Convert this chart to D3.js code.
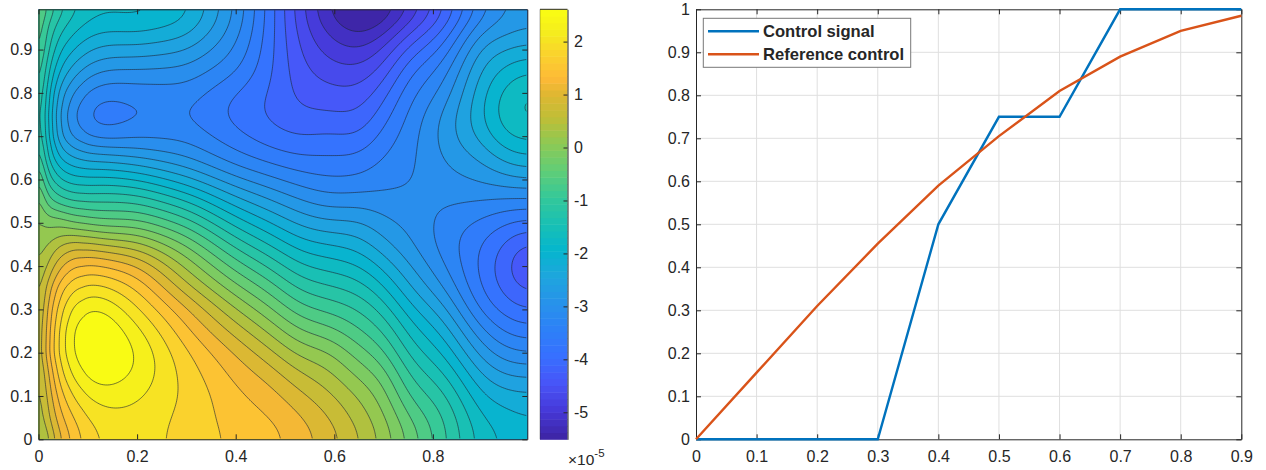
<!DOCTYPE html>
<meta charset="utf-8">
<style>
  body { margin: 0; background: #fff; }
  text { font-family: "Liberation Sans", Arial, sans-serif; fill: #262626; }
  .tick text { font-size: 16px; }
  .axis path, .axis line { stroke: #262626; stroke-width: 1px; }
</style>
<svg width="1266" height="470"></svg>
<script src="https://d3js.org/d3.v7.min.js"></script>
<script>
  // left panel: field, in units of 1e-5
  var gridY = [0,.05,.1,.15,.2,.25,.3,.35,.4,.45,.5,.55,.6,.65,.7,.75,.8,.85,.9,.95,.99];
  var gridX = [0,.02,.05,.08,.125,.2,.3,.4,.47,.53,.59,.65,.7,.75,.82,.9,.95,.99];
  // one column per gridX entry, bottom to top
  var fieldColumns = [
    [.15,.3,.35,.4,.45,.45,.4,.35,.25,.12,.02,-.1,-.4,-.75,-1,-1.05,-.95,-.8,-.65,-.55,-.45],
    [.45,.7,.85,1,1.25,1.2,1.1,.9,.55,.25,-.1,-.7,-1.2,-1.6,-1.8,-1.85,-1.75,-1.55,-1.3,-1.1,-.88],
    [1.1,1.35,1.6,1.9,2.12,2.1,1.9,1.6,1.1,.55,-.1,-1,-1.7,-2.3,-2.8,-2.89,-2.7,-2.3,-1.95,-1.6,-1.32],
    [1.5,1.7,2,2.35,2.58,2.6,2.38,1.95,1.45,.75,-.3,-1.15,-1.85,-2.45,-3.2,-3.4,-3.1,-2.65,-2.2,-1.85,-1.6],
    [1.85,1.98,2.25,2.62,2.76,2.72,2.47,1.95,1.37,.55,-.55,-1.03,-1.72,-2.45,-3.4,-3.72,-3.38,-2.95,-2.45,-2.07,-1.72],
    [1.95,2,2.13,2.33,2.38,2.2,1.87,1.55,1.12,.38,-.45,-1.08,-1.84,-2.65,-3.25,-3.5,-3.33,-2.95,-2.45,-1.98,-1.68],
    [1.72,1.73,1.78,1.72,1.62,1.36,1.12,.6,.2,-.27,-.9,-1.55,-2.3,-2.92,-3.25,-3.45,-3.28,-2.98,-2.62,-2.15,-1.97],
    [1.52,1.44,1.38,1.23,1.04,.68,.28,-.19,-.65,-1.15,-1.7,-2.25,-2.85,-3.35,-3.62,-3.8,-3.72,-3.36,-3.17,-3,-2.89],
    [1.42,1.33,1.17,.95,.6,.2,-.22,-.65,-1.1,-1.6,-2.1,-2.6,-3.1,-3.55,-3.85,-4.02,-3.96,-3.9,-3.85,-3.82,-3.8],
    [1.2,1.1,.85,.56,.15,-.27,-.72,-1.14,-1.56,-2,-2.45,-2.87,-3.3,-3.66,-3.98,-4.18,-4.29,-4.38,-4.48,-4.57,-4.65],
    [.93,.8,.58,.34,.06,-.42,-.87,-1.28,-1.68,-2.1,-2.6,-3.05,-3.42,-3.65,-3.87,-4.17,-4.38,-4.6,-4.85,-5.1,-5.35],
    [.58,.4,.26,-.1,-.42,-.77,-1.04,-1.42,-1.8,-2.22,-2.55,-3,-3.4,-3.63,-3.99,-4.22,-4.42,-4.66,-5.02,-5.42,-5.75],
    [.2,.1,-.1,-.32,-.7,-1.03,-1.4,-1.8,-2.18,-2.58,-2.83,-3.07,-3.23,-3.38,-3.55,-3.8,-4.05,-4.4,-4.68,-5.2,-5.6],
    [-.27,-.53,-.85,-1.1,-1.4,-1.67,-2,-2.33,-2.6,-2.85,-2.95,-3.1,-3.18,-3.24,-3.3,-3.37,-3.48,-3.7,-4.09,-4.55,-5.1],
    [-.96,-1,-1.2,-1.5,-1.84,-2.15,-2.5,-2.88,-3.12,-3.28,-3.25,-3.1,-3,-2.88,-2.78,-2.85,-3.12,-3.3,-3.65,-4,-4.33],
    [-1.72,-1.85,-2.1,-2.4,-2.77,-3.13,-3.55,-3.75,-3.78,-3.7,-3.5,-3.15,-2.85,-2.6,-2.25,-2.1,-2.15,-2.28,-2.47,-2.89,-3.3],
    [-1.85,-2,-2.25,-2.67,-3.1,-3.5,-3.84,-4.05,-4.18,-4,-3.7,-3.22,-2.72,-2.2,-1.78,-1.58,-1.68,-2,-2.35,-2.8,-2.89],
    [-2.05,-2.09,-2.27,-2.68,-3.15,-3.6,-3.95,-4.35,-4.65,-4.35,-3.75,-3.26,-2.6,-2.13,-1.72,-1.47,-1.5,-1.8,-2.25,-2.65,-2.78]
  ];
  var fieldMin = -5.51, fieldMax = 2.61, levelCount = 30;
  var leftXTicks = [0,.2,.4,.6,.8];
  var leftYTicks = [0,.1,.2,.3,.4,.5,.6,.7,.8,.9];
  var barTicks = [-5,-4,-3,-2,-1,0,1,2];

  // right panel
  var controlX = [0,.1,.2,.3,.4,.5,.6,.7,.8,.9];
  var controlSignal = [0,0,0,0,.5,.75,.75,1,1,1];
  var referenceControl = [0,.155,.31,.455,.59,.705,.81,.89,.95,.985];
  var rightXTicks = [0,.1,.2,.3,.4,.5,.6,.7,.8,.9];
  var rightYTicks = [0,.1,.2,.3,.4,.5,.6,.7,.8,.9,1];
  var legendNames = ["Control signal", "Reference control"];

  var parulaStops = [[0,"#3e26a8"],[.06,"#4638d8"],[.125,"#4855f8"],[.19,"#3770ff"],[.25,"#2d80f8"],[.31,"#2891eb"],
    [.375,"#1ea5de"],[.44,"#05b6cd"],[.5,"#19c0b4"],[.56,"#32c89b"],[.625,"#5fcd78"],[.69,"#8cca55"],[.75,"#bebe37"],
    [.81,"#e1b732"],[.845,"#feb937"],[.9,"#fad22d"],[.95,"#f5eb1e"],[1,"#f9fb14"]];
  var parula = d3.scaleLinear().domain(parulaStops.map(function (d) { return d[0]; }))
    .range(parulaStops.map(function (d) { return d[1]; }));

  var svg = d3.select("svg");
  var top_ = 9.3, bottom = 439.3;

  var x = d3.scaleLinear().domain([0, .9915]).range([38.5, 527.3]);
  var y = d3.scaleLinear().domain([0, .993]).range([bottom, top_]);

  // resample on a fine raster so the contours come out smooth
  function lookup(px, py) {
    var i = Math.min(d3.bisectRight(gridX, px), gridX.length - 1), j = Math.min(d3.bisectRight(gridY, py), gridY.length - 1);
    var tx = Math.min(1, (px - gridX[i - 1]) / (gridX[i] - gridX[i - 1])), ty = Math.min(1, (py - gridY[j - 1]) / (gridY[j] - gridY[j - 1]));
    var a = fieldColumns[i - 1][j - 1] * (1 - ty) + fieldColumns[i - 1][j] * ty,
      b = fieldColumns[i][j - 1] * (1 - ty) + fieldColumns[i][j] * ty;
    return a * (1 - tx) + b * tx;
  }
  var nx = 245, ny = 215, sharp = new Float64Array(nx * ny);
  var cellX = d3.scaleLinear().domain([0, nx]).range(x.range());
  var cellY = d3.scaleLinear().domain([0, ny]).range(y.range());
  for (var j = 0; j < ny; j++) for (var i = 0; i < nx; i++)
    sharp[j * nx + i] = lookup(x.invert(cellX(i + .5)), y.invert(cellY(j + .5)));
  var soft = Float64Array.from(sharp);
  d3.blur2({data: sharp, width: nx, height: ny}, 1.5);
  d3.blur2({data: soft, width: nx, height: ny}, 6);
  // wide blur everywhere except the steep strip along the left edge
  var raster = new Float64Array(nx * ny);
  var edgeBlend = d3.scaleLinear().domain([.02, .09]).range([0, 1]).clamp(true);
  for (var j2 = 0; j2 < ny; j2++) for (var i2 = 0; i2 < nx; i2++) {
    var w = edgeBlend(x.invert(cellX(i2 + .5)));
    raster[j2 * nx + i2] = sharp[j2 * nx + i2] * (1 - w) + soft[j2 * nx + i2] * w;
  }

  var step = (fieldMax - fieldMin) / (levelCount + 1);
  var levels = d3.range(1, levelCount + 1).map(function (k) { return fieldMin + k * step; });

  var contours = d3.contours().size([nx, ny]).smooth(true).thresholds(levels)(raster);
  var plot = svg.append("g");
  var cellPath = function (coords) {
    return d3.line().x(function (p) { return cellX(p[0]); }).y(function (p) { return cellY(p[1]); })(coords);
  };

  plot.append("rect").attr("x", x.range()[0]).attr("y", top_).attr("width", x.range()[1] - x.range()[0]).attr("height", bottom - top_)
    .attr("fill", parula(0));
  contours.forEach(function (c, k) {
    var d = "";
    c.coordinates.forEach(function (poly) {
      poly.forEach(function (ring) { d += cellPath(ring) + "Z"; });
    });
    plot.append("path").attr("d", d).attr("fill", parula((k + 1) / levelCount)).attr("fill-rule", "evenodd").attr("stroke", "none");
  });

  // contour lines without the parts that run along the frame
  function onEdge(p) { return p[0] <= .5 || p[0] >= nx - .5 || p[1] <= .5 || p[1] >= ny - .5; }
  contours.forEach(function (c) {
    c.coordinates.forEach(function (poly) {
      poly.forEach(function (ring) {
        var run = [];
        ring.forEach(function (p) {
          if (onEdge(p)) {
            if (run.length && !onEdge(run[run.length - 1])) { run.push(p); drawRun(run); }
            run = [p];
          } else run.push(p);
        });
        if (run.length > 1) drawRun(run);
      });
    });
  });
  function drawRun(run) {
    plot.append("path").attr("d", cellPath(run)).attr("fill", "none").attr("stroke", "#1c2433").attr("stroke-opacity", .8).attr("stroke-width", .75);
  }

  function box(xs, ys, xTicks, yTicks, xFmt, yFmt) {
    var bot = d3.axisBottom(xs).tickValues(xTicks).tickFormat(xFmt).tickSizeInner(-5).tickSizeOuter(0).tickPadding(11);
    var lft = d3.axisLeft(ys).tickValues(yTicks).tickFormat(yFmt).tickSizeInner(-5).tickSizeOuter(0).tickPadding(6);
    var tp = d3.axisTop(xs).tickValues(xTicks).tickFormat("").tickSizeInner(-5).tickSizeOuter(0);
    var rgt = d3.axisRight(ys).tickValues(yTicks).tickFormat("").tickSizeInner(-5).tickSizeOuter(0);
    svg.append("g").attr("class", "axis").attr("transform", "translate(0," + ys.range()[0] + ")").call(bot);
    svg.append("g").attr("class", "axis").attr("transform", "translate(" + xs.range()[0] + ",0)").call(lft);
    svg.append("g").attr("class", "axis").attr("transform", "translate(0," + ys.range()[1] + ")").call(tp);
    svg.append("g").attr("class", "axis").attr("transform", "translate(" + xs.range()[1] + ",0)").call(rgt);
  }
  var fmt = function (d) { return String(+d.toFixed(1)); };
  box(x, y, leftXTicks, leftYTicks, fmt, fmt);

  // colorbar
  var barX0 = 540, barX1 = 567.5;
  var barScale = d3.scaleLinear().domain([fieldMin, fieldMax]).range([bottom, top_]);
  var barG = svg.append("g");
  barG.selectAll("rect").data(d3.range(64)).enter().append("rect")
    .attr("x", barX0).attr("width", barX1 - barX0)
    .attr("y", function (d) { return barScale(fieldMin + (d + 1) / 64 * (fieldMax - fieldMin)); })
    .attr("height", (bottom - top_) / 64 + .5)
    .attr("fill", function (d) { return parula(d / 63); });
  var barAxis = d3.axisRight(barScale).tickValues(barTicks).tickSizeInner(-4).tickSizeOuter(0).tickPadding(6.5).tickFormat(function (d) { return d; });
  svg.append("g").attr("class", "axis").attr("transform", "translate(" + barX1 + ",0)").call(barAxis);
  svg.append("line").attr("x1", barX0).attr("x2", barX1).attr("y1", top_).attr("y2", top_).attr("stroke", "#262626");
  svg.append("line").attr("x1", barX0).attr("x2", barX0).attr("y1", top_).attr("y2", bottom).attr("stroke", "#262626").attr("stroke-opacity", .35);
  var expo = svg.append("text").attr("x", 568).attr("y", 465).style("font-size", "15.5px").attr("fill", "#262626");
  expo.append("tspan").text("\u00d710");
  expo.append("tspan").attr("dy", -8).style("font-size", "11.5px").text("-5");

  // right panel
  var rx = d3.scaleLinear().domain([0, .9]).range([696, 1241.3]);
  var ry = d3.scaleLinear().domain([0, 1]).range([bottom, top_]);
  var grid = svg.append("g").attr("stroke", "#dfdfdf").attr("stroke-width", 1);
  grid.selectAll(".gx").data(rightXTicks.slice(1, -1)).enter().append("line")
    .attr("x1", rx).attr("x2", rx).attr("y1", bottom).attr("y2", top_);
  grid.selectAll(".gy").data(rightYTicks.slice(1, -1)).enter().append("line")
    .attr("x1", rx.range()[0]).attr("x2", rx.range()[1]).attr("y1", ry).attr("y2", ry);
  box(rx, ry, rightXTicks, rightYTicks, fmt, fmt);

  var line = d3.line().x(function (d, i) { return rx(controlX[i]); }).y(function (d) { return ry(d); });
  var lineColors = ["#0072bd", "#d95319"];
  [controlSignal, referenceControl].forEach(function (s, i) {
    svg.append("path").attr("d", line(s)).attr("fill", "none").attr("stroke", lineColors[i]).attr("stroke-width", 2.4);
  });

  // legend
  var legend = svg.append("g");
  legend.append("rect").attr("x", 703.3).attr("y", 18.3).attr("width", 207.4).attr("height", 49).attr("fill", "#fff").attr("stroke", "#777");
  legendNames.forEach(function (name, i) {
    var ly = 31.3 + i * 23;
    legend.append("line").attr("x1", 708).attr("x2", 759).attr("y1", ly).attr("y2", ly).attr("stroke", lineColors[i]).attr("stroke-width", 2.4);
    legend.append("text").attr("x", 763).attr("y", ly + 6).style("font-size", "16.6px").style("font-weight", "bold").attr("fill", "#000").text(name);
  });
</script>
